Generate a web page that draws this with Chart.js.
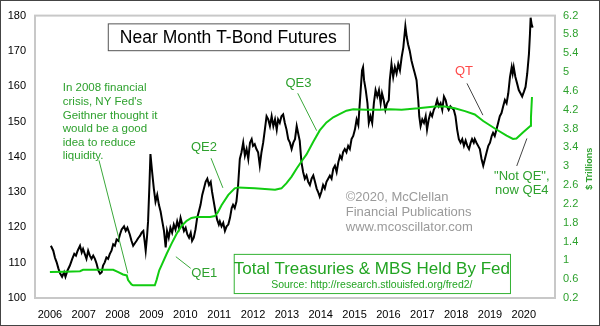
<!DOCTYPE html>
<html>
<head>
<meta charset="utf-8">
<script src="https://cdn.jsdelivr.net/npm/chart.js@4"></script>
<style>
  html, body { margin: 0; padding: 0; background: #fff; }
  canvas { display: block; }
</style>
</head>
<body>
<canvas id="bondChart" width="600" height="326"></canvas>
<script>
// Near month T-bond futures price (left axis)
const bondYears = [
  2006.03, 2006.10, 2006.15, 2006.20, 2006.25, 2006.30, 2006.36, 2006.42, 2006.46, 2006.52,
  2006.59, 2006.66, 2006.72, 2006.77, 2006.82, 2006.89, 2006.94, 2006.98, 2007.03, 2007.08,
  2007.13, 2007.18, 2007.23, 2007.28, 2007.33, 2007.38, 2007.43, 2007.48, 2007.53, 2007.57,
  2007.62, 2007.67, 2007.72, 2007.77, 2007.82, 2007.87, 2007.92, 2007.97, 2008.02, 2008.07,
  2008.12, 2008.19, 2008.24, 2008.29, 2008.36, 2008.41, 2008.46, 2008.51, 2008.56, 2008.61,
  2008.66, 2008.71, 2008.76, 2008.80, 2008.83, 2008.87, 2008.90, 2008.94, 2008.97, 2009.02,
  2009.07, 2009.12, 2009.17, 2009.22, 2009.27, 2009.32, 2009.37, 2009.42, 2009.46, 2009.51,
  2009.56, 2009.61, 2009.66, 2009.71, 2009.76, 2009.81, 2009.86, 2009.91, 2009.96, 2010.01,
  2010.06, 2010.11, 2010.16, 2010.20, 2010.25, 2010.30, 2010.35, 2010.40, 2010.45, 2010.50,
  2010.55, 2010.60, 2010.65, 2010.70, 2010.75, 2010.79, 2010.84, 2010.89, 2010.94, 2010.99,
  2011.02, 2011.07, 2011.12, 2011.17, 2011.22, 2011.27, 2011.32, 2011.37, 2011.41, 2011.46,
  2011.51, 2011.56, 2011.61, 2011.66, 2011.71, 2011.76, 2011.81, 2011.86, 2011.91, 2011.96,
  2012.00, 2012.05, 2012.10, 2012.15, 2012.20, 2012.25, 2012.30, 2012.35, 2012.40, 2012.45,
  2012.50, 2012.55, 2012.60, 2012.65, 2012.70, 2012.74, 2012.79, 2012.84, 2012.89, 2012.94,
  2012.99, 2013.04, 2013.09, 2013.14, 2013.19, 2013.24, 2013.29, 2013.33, 2013.38, 2013.43,
  2013.48, 2013.53, 2013.58, 2013.63, 2013.68, 2013.73, 2013.78, 2013.83, 2013.88, 2013.92,
  2013.97, 2014.02, 2014.07, 2014.12, 2014.17, 2014.22, 2014.27, 2014.32, 2014.37, 2014.42,
  2014.47, 2014.52, 2014.57, 2014.62, 2014.66, 2014.71, 2014.76, 2014.81, 2014.86, 2014.91,
  2014.96, 2015.01, 2015.06, 2015.11, 2015.14, 2015.18, 2015.22, 2015.25, 2015.28, 2015.33,
  2015.38, 2015.42, 2015.47, 2015.52, 2015.57, 2015.62, 2015.67, 2015.72, 2015.77, 2015.81,
  2015.86, 2015.91, 2015.96, 2016.01, 2016.04, 2016.09, 2016.14, 2016.19, 2016.24, 2016.29,
  2016.34, 2016.39, 2016.44, 2016.50, 2016.54, 2016.58, 2016.63, 2016.68, 2016.73, 2016.78,
  2016.83, 2016.88, 2016.91, 2016.95, 2017.00, 2017.05, 2017.10, 2017.14, 2017.19, 2017.24,
  2017.29, 2017.34, 2017.39, 2017.44, 2017.49, 2017.54, 2017.59, 2017.64, 2017.69, 2017.73,
  2017.78, 2017.83, 2017.88, 2017.93, 2017.98, 2018.03, 2018.08, 2018.13, 2018.18, 2018.23,
  2018.28, 2018.33, 2018.38, 2018.43, 2018.47, 2018.52, 2018.55, 2018.60, 2018.65, 2018.70,
  2018.75, 2018.80, 2018.85, 2018.90, 2018.95, 2019.00, 2019.05, 2019.09, 2019.14, 2019.19,
  2019.24, 2019.29, 2019.34, 2019.39, 2019.44, 2019.49, 2019.54, 2019.59, 2019.64, 2019.67,
  2019.70, 2019.75, 2019.80, 2019.85, 2019.90, 2019.95, 2020.00, 2020.05, 2020.10, 2020.15,
  2020.18, 2020.20, 2020.23, 2020.26
];
const bondPrices = [
  114.8, 113.4, 111.4, 110.1, 108.4, 107.0, 106.0, 107.3, 106.0, 107.8,
  109.2, 111.1, 112.5, 112.0, 113.4, 114.8, 112.9, 113.9, 112.5, 111.1,
  113.4, 112.0, 111.1, 112.0, 111.1, 109.7, 107.8, 106.9, 107.3, 109.2,
  110.1, 111.5, 111.1, 112.5, 113.4, 115.2, 114.8, 116.6, 116.2, 118.0,
  119.4, 120.3, 119.0, 119.9, 118.0, 116.2, 114.8, 115.5, 116.2, 117.0,
  117.6, 118.5, 119.0, 116.0, 113.4, 117.5, 121.7, 132.0, 140.8, 135.7,
  131.0, 127.3, 129.2, 126.4, 124.5, 121.7, 119.0, 114.3, 119.0, 117.1,
  119.9, 118.5, 120.8, 119.4, 121.7, 119.9, 122.7, 120.8, 119.0, 119.9,
  118.0, 117.1, 118.5, 116.2, 117.1, 119.4, 122.7, 124.5, 126.4, 129.2,
  131.0, 132.9, 133.8, 132.0, 132.9, 130.1, 127.3, 124.5, 122.2, 120.8,
  121.7, 120.3, 121.3, 119.0, 120.3, 120.8, 122.7, 125.5, 126.4, 125.5,
  127.3, 132.0, 139.4, 141.3, 144.0, 140.3, 142.2, 139.4, 144.0, 145.0,
  143.1, 143.6, 142.2, 141.3, 137.5, 141.3, 144.0, 147.7, 151.5, 150.6,
  148.7, 151.5, 148.7, 150.6, 147.7, 150.6, 149.6, 151.5, 152.0, 149.6,
  147.7, 145.0, 144.0, 142.2, 144.0, 145.0, 148.7, 146.8, 144.5, 138.5,
  135.7, 133.8, 134.7, 132.9, 132.0, 133.8, 134.7, 132.9, 131.0, 130.1,
  128.7, 130.1, 132.0, 131.0, 132.9, 133.8, 134.7, 133.8, 136.6, 137.5,
  135.7, 138.5, 140.3, 139.4, 141.3, 142.2, 141.3, 143.1, 142.2, 145.0,
  145.9, 147.7, 150.6, 149.0, 153.3, 158.9, 164.5, 165.4, 161.7, 158.9,
  155.2, 149.6, 151.5, 149.6, 155.2, 158.9, 157.1, 158.9, 155.2, 158.0,
  156.1, 153.3, 155.2, 156.0, 161.7, 166.3, 162.6, 165.4, 163.6, 166.3,
  164.5, 168.2, 171.0, 177.0, 174.0, 171.9, 170.0, 167.3, 165.4, 163.6,
  161.7, 156.1, 151.5, 148.7, 150.6, 149.6, 151.5, 147.7, 150.6, 152.4,
  151.5, 153.3, 154.3, 156.1, 154.3, 155.2, 153.3, 157.1, 156.1, 154.3,
  153.3, 154.3, 153.8, 153.3, 151.5, 147.7, 145.0, 144.0, 145.0, 143.1,
  144.6, 143.1, 142.2, 144.0, 145.0, 144.0, 145.0, 144.0, 143.1, 142.2,
  139.4, 137.5, 139.4, 141.3, 143.1, 144.0, 145.9, 146.8, 145.9, 147.7,
  149.6, 151.5, 152.4, 154.3, 156.1, 155.2, 158.0, 162.6, 165.4, 163.6,
  165.4, 162.6, 160.8, 158.9, 158.0, 157.1, 158.4, 159.8, 163.6, 169.1,
  174.7, 179.4, 177.5, 176.6
];

// Treasuries + MBS held by the Fed, $ trillions (right axis)
const fedYears = [
  2006.00, 2006.45, 2006.89, 2006.98, 2007.40, 2007.87, 2008.02, 2008.16, 2008.27, 2008.31,
  2008.41, 2008.46, 2008.80, 2009.10, 2009.15, 2009.23, 2009.30, 2009.45, 2009.59, 2009.74,
  2009.89, 2010.04, 2010.18, 2010.33, 2010.73, 2010.87, 2010.96, 2011.07, 2011.27, 2011.46,
  2011.56, 2012.05, 2012.65, 2012.84, 2012.99, 2013.14, 2013.29, 2013.43, 2013.58, 2013.78,
  2013.97, 2014.17, 2014.37, 2014.57, 2014.76, 2014.96, 2015.35, 2015.75, 2016.04, 2016.39,
  2016.88, 2017.37, 2017.67, 2017.96, 2018.26, 2018.55, 2018.80, 2019.19, 2019.49, 2019.68,
  2019.78, 2019.98, 2020.20, 2020.21, 2020.24
];
const fedHoldings = [
  0.75, 0.76, 0.77, 0.80, 0.80, 0.80, 0.75, 0.70, 0.68, 0.58,
  0.49, 0.47, 0.47, 0.47, 0.58, 0.79, 0.90, 1.14, 1.35, 1.56,
  1.73, 1.84, 1.90, 1.92, 1.92, 1.94, 2.02, 2.17, 2.39, 2.53,
  2.55, 2.53, 2.50, 2.53, 2.64, 2.78, 2.95, 3.10, 3.25, 3.52,
  3.76, 3.93, 4.04, 4.11, 4.18, 4.21, 4.20, 4.20, 4.21, 4.20,
  4.23, 4.27, 4.27, 4.23, 4.17, 4.10, 3.96, 3.78, 3.65, 3.58,
  3.59, 3.72, 3.86, 4.04, 4.47
];

const yearTicks = [2006, 2007, 2008, 2009, 2010, 2011, 2012, 2013, 2014, 2015, 2016, 2017, 2018, 2019, 2020];
const priceTicks = [100, 110, 120, 130, 140, 150, 160, 170, 180];
const trillionTicks = [0.2, 0.6, 1, 1.4, 1.8, 2.2, 2.6, 3, 3.4, 3.8, 4.2, 4.6, 5, 5.4, 5.8, 6.2];

const FONT = '"Liberation Sans", Arial, sans-serif';
const GREEN_TEXT = '#2ea12e';

// callouts, placed in (year, price) units
const pointers = [
  { from: [2007.45, 139.0], to: [2008.30, 107.0], color: '#3aa83a' },
  { from: [2009.72, 111.7], to: [2010.16, 108.4], color: '#3aa83a' },
  { from: [2010.76, 139.6], to: [2011.11, 131.2], color: '#3aa83a' },
  { from: [2013.32, 158.0], to: [2013.88, 147.4], color: '#3aa83a' },
  { from: [2018.32, 160.8], to: [2018.79, 151.8], color: '#444' },
  { from: [2019.79, 137.4], to: [2020.09, 145.2], color: '#444' }
];
const labels = [
  { text: 'QE1', at: [2010.56, 107.0], color: GREEN_TEXT },
  { text: 'QE2', at: [2010.55, 142.6], color: GREEN_TEXT },
  { text: 'QE3', at: [2013.34, 160.8], color: GREEN_TEXT },
  { text: 'QT', at: [2018.23, 164.1], color: '#ff4a4a' },
  { text: '"Not QE",', at: [2019.94, 134.3], color: GREEN_TEXT },
  { text: 'now QE4', at: [2019.94, 130.4], color: GREEN_TEXT }
];
const crisisNote = ['In 2008 financial', "crisis, NY Fed's", 'Geithner thought it',
  'would be a good', 'idea to reduce', 'liquidity.'];
const creditLines = ['\u00a92020, McClellan', 'Financial Publications', 'www.mcoscillator.com'];

const framePlugin = {
  id: 'frame',
  afterDraw(chart) {
    const { ctx, chartArea: a, width, height } = chart;
    ctx.save();
    ctx.strokeStyle = '#c8c8c8';
    ctx.lineWidth = 2;
    ctx.strokeRect(a.left, a.top, a.right - a.left, a.bottom - a.top);
    ctx.strokeStyle = '#444';
    ctx.lineWidth = 1;
    ctx.strokeRect(0.5, 0.5, width - 1, height - 1);
    // right axis title, reading upward
    ctx.translate(590, (a.top + a.bottom) / 2 + 12);
    ctx.rotate(-Math.PI / 2);
    ctx.fillStyle = '#2ea12e';
    ctx.font = 'bold 9px ' + FONT;
    ctx.textAlign = 'center';
    ctx.textBaseline = 'middle';
    ctx.fillText('$ Trillions', 0, 0);
    ctx.restore();
  }
};

const notesPlugin = {
  id: 'notes',
  afterDatasetsDraw(chart) {
    const { ctx, scales } = chart;
    const X = v => scales.x.getPixelForValue(v);
    const Y = v => scales.y.getPixelForValue(v);
    ctx.save();
    ctx.lineWidth = 1;
    pointers.forEach(p => {
      ctx.strokeStyle = p.color;
      ctx.beginPath();
      ctx.moveTo(X(p.from[0]), Y(p.from[1]));
      ctx.lineTo(X(p.to[0]), Y(p.to[1]));
      ctx.stroke();
    });

    ctx.textBaseline = 'middle';
    ctx.textAlign = 'center';
    ctx.font = '13px ' + FONT;
    labels.forEach(l => {
      ctx.fillStyle = l.color;
      ctx.fillText(l.text, X(l.at[0]), Y(l.at[1]));
    });

    // title box
    const tl = X(2007.71), tr = X(2014.83), tt = Y(177.8), tb = Y(170.2);
    ctx.fillStyle = '#fff';
    ctx.fillRect(tl, tt, tr - tl, tb - tt);
    ctx.strokeStyle = '#555';
    ctx.strokeRect(tl + 0.5, tt + 0.5, tr - tl, tb - tt);
    ctx.fillStyle = '#000';
    ctx.font = '17.5px ' + FONT;
    ctx.fillText('Near Month T-Bond Futures', (tl + tr) / 2, (tt + tb) / 2 + 1);

    // source box
    const bl = X(2011.43), br = X(2019.59), bt = Y(112.5), bb = Y(101.4);
    ctx.strokeStyle = '#33b233';
    ctx.strokeRect(bl + 0.5, bt + 0.5, br - bl, bb - bt);
    ctx.fillStyle = '#22a422';
    ctx.font = '17px ' + FONT;
    ctx.fillText('Total Treasuries & MBS Held By Fed', (bl + br) / 2, Y(108.1));
    ctx.font = '10.5px ' + FONT;
    ctx.fillText('Source: http://research.stlouisfed.org/fred2/', (bl + br) / 2, Y(103.6));

    ctx.textAlign = 'left';
    ctx.fillStyle = GREEN_TEXT;
    ctx.font = '11.5px ' + FONT;
    crisisNote.forEach((t, i) => ctx.fillText(t, X(2006.38), Y(159.4) + i * 13.6));

    ctx.fillStyle = '#9a9a9a';
    ctx.font = '13px ' + FONT;
    creditLines.forEach((t, i) => ctx.fillText(t, X(2014.74), Y(128.4) + i * 15));
    ctx.restore();
  }
};

const bondPoints = bondYears.map((yr, i) => ({ x: yr, y: bondPrices[i] }));
const fedPoints = fedYears.map((yr, i) => ({ x: yr, y: fedHoldings[i] }));

new Chart(document.getElementById('bondChart').getContext('2d'), {
  type: 'line',
  data: {
    datasets: [{
      label: 'Total Treasuries & MBS Held By Fed',
      data: fedPoints,
      yAxisID: 'y1',
      borderColor: '#11cc11',
      borderWidth: 2,
      pointRadius: 0,
      tension: 0,
      order: 0
    }, {
      label: 'Near Month T-Bond Futures',
      data: bondPoints,
      yAxisID: 'y',
      borderColor: '#000',
      borderWidth: 2,
      pointRadius: 0,
      tension: 0,
      order: 1
    }]
  },
  options: {
    responsive: false,
    animation: false,
    devicePixelRatio: 1,
    layout: { padding: { top: 12 } },
    plugins: { legend: { display: false }, tooltip: { enabled: false } },
    scales: {
      x: {
        type: 'linear',
        min: 2005.56,
        max: 2020.92,
        grid: { display: false, drawTicks: false },
        border: { display: false },
        afterBuildTicks: axis => { axis.ticks = yearTicks.map(v => ({ value: v })); },
        afterFit: axis => { axis.height = 28; },
        ticks: {
          color: '#000',
          font: { family: FONT, size: 11 },
          padding: 10,
          maxRotation: 0,
          autoSkip: false,
          callback: v => String(v)
        }
      },
      y: {
        position: 'left',
        min: 100,
        max: 180,
        grid: { display: false, drawTicks: false },
        border: { display: false },
        afterBuildTicks: axis => { axis.ticks = priceTicks.map(v => ({ value: v })); },
        afterFit: axis => { axis.width = 35; },
        ticks: { color: '#000', font: { family: FONT, size: 11 }, padding: 9 }
      },
      y1: {
        position: 'right',
        min: 0.2,
        max: 6.2,
        grid: { display: false, drawTicks: false },
        border: { display: false },
        afterBuildTicks: axis => { axis.ticks = trillionTicks.map(v => ({ value: v })); },
        afterFit: axis => { axis.width = 45; },
        ticks: {
          color: '#2ea12e',
          font: { family: FONT, size: 11 },
          padding: 8,
          callback: v => String(Number(v.toFixed(1)))
        }
      }
    }
  },
  plugins: [framePlugin, notesPlugin]
});
</script>
</body>
</html>
